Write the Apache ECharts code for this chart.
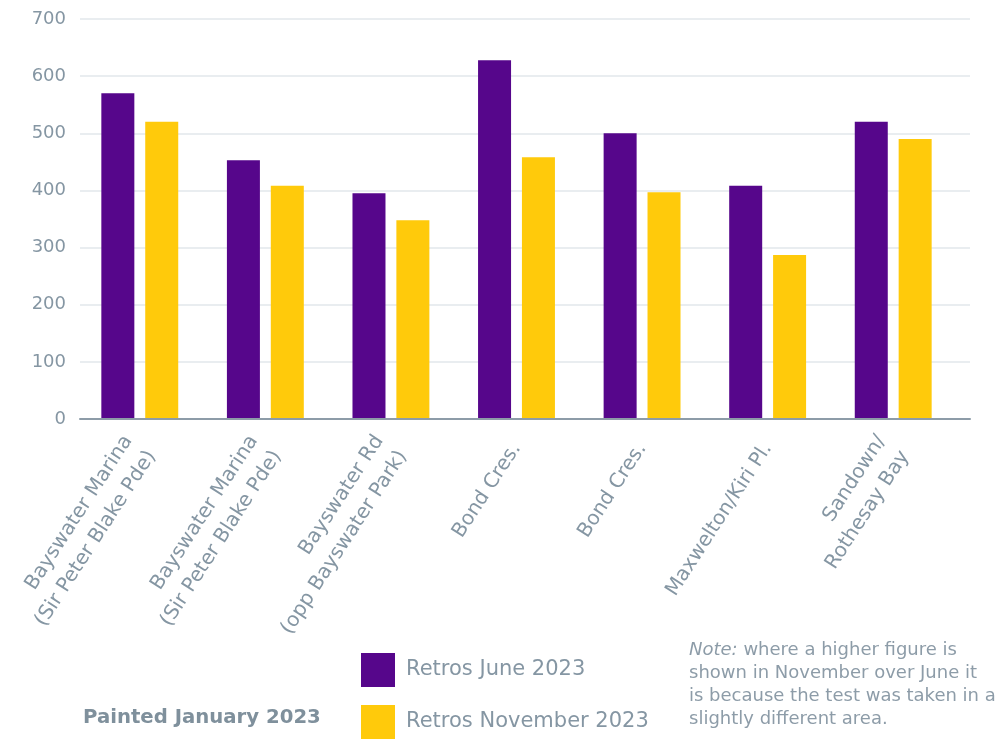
<!DOCTYPE html>
<html>
<head>
<meta charset="utf-8">
<script src="https://cdn.jsdelivr.net/npm/echarts@6/dist/echarts.min.js"></script>
<style>
  html, body { margin: 0; padding: 0; background: #ffffff; }
  #chart { width: 1003px; height: 741px; }
</style>
</head>
<body>
<div id="chart"></div>
<script>
// Test sites (duplicate names are separate test locations)
const categories = [
  'Bayswater Marina\n(Sir Peter Blake Pde)',
  'Bayswater Marina\n(Sir Peter Blake Pde)',
  'Bayswater Rd\n(opp Bayswater Park)',
  'Bond Cres.',
  'Bond Cres.',
  'Maxwelton/Kiri Pl.',
  'Sandown/\nRothesay Bay'
];
const seriesNames = ['Retros June 2023', 'Retros November 2023'];
const retrosJune = [570, 453, 395, 628, 500, 408, 520];
const retrosNovember = [520, 408, 348, 458, 397, 287, 490];
const yMin = 0, yMax = 700, yStep = 100;

const FONT = "'DejaVu Sans', sans-serif";
const GREY = '#8596a3';
const PURPLE = '#56068b';
const YELLOW = '#ffca0b';

const chart = echarts.init(document.getElementById('chart'), null, { renderer: 'canvas' });

chart.setOption({
  backgroundColor: '#ffffff',
  animation: false,
  grid: [
    // frame grid: value ticks, gridlines and baseline
    { left: 80, right: 33, top: 19, bottom: 322 },
    // bar grid
    { left: 77, right: 47, top: 19, bottom: 322 }
  ],
  xAxis: [
    {
      gridIndex: 0, type: 'value', min: 0, max: 1,
      axisLine: { show: true, onZero: false, lineStyle: { color: '#8d9ca8', width: 2 } },
      axisTick: { show: false }, axisLabel: { show: false }, splitLine: { show: false },
      z: 5
    },
    {
      gridIndex: 1, type: 'category', data: categories,
      axisLine: { show: false }, axisTick: { show: false },
      axisLabel: {
        interval: 0, rotate: 57, margin: 26,
        color: GREY, fontFamily: FONT, fontSize: 20, lineHeight: 28
      }
    }
  ],
  yAxis: [
    {
      gridIndex: 0, type: 'value', min: yMin, max: yMax, interval: yStep,
      axisLine: { show: false }, axisTick: { show: false },
      axisLabel: { color: GREY, fontFamily: FONT, fontSize: 18, margin: 14 },
      splitLine: { lineStyle: { color: '#e2e7eb', width: 1.5 } }
    },
    {
      gridIndex: 1, type: 'value', min: yMin, max: yMax, interval: yStep,
      show: false
    }
  ],
  legend: {
    orient: 'vertical', left: 361, top: 653, padding: 0,
    itemWidth: 34, itemHeight: 34, itemGap: 18, icon: 'rect',
    textStyle: { color: GREY, fontFamily: FONT, fontSize: 21, padding: [0, 0, 0, 6] },
    data: seriesNames
  },
  series: [
    {
      name: seriesNames[0], type: 'bar', xAxisIndex: 1, yAxisIndex: 1,
      data: retrosJune, barWidth: 33, barGap: '33%',
      itemStyle: { color: PURPLE }
    },
    {
      name: seriesNames[1], type: 'bar', xAxisIndex: 1, yAxisIndex: 1,
      data: retrosNovember, barWidth: 33, barGap: '33%',
      itemStyle: { color: YELLOW }
    }
  ],
  graphic: [
    {
      type: 'text', left: 83, top: 708,
      style: {
        text: 'Painted January 2023',
        fill: '#7f909c', font: "bold 19.7px 'DejaVu Sans', sans-serif"
      }
    },
    {
      type: 'text', left: 689, top: 639,
      style: {
        text: '{i|Note:} where a higher figure is\nshown in November over June it\nis because the test was taken in a\nslightly different area.',
        fill: '#8d9ca8', font: "18px 'DejaVu Sans', sans-serif", lineHeight: 23,
        rich: {
          i: { fontStyle: 'italic', fontFamily: FONT, fontSize: 18, fill: '#8d9ca8', lineHeight: 23 }
        }
      }
    }
  ]
});
</script>
</body>
</html>
